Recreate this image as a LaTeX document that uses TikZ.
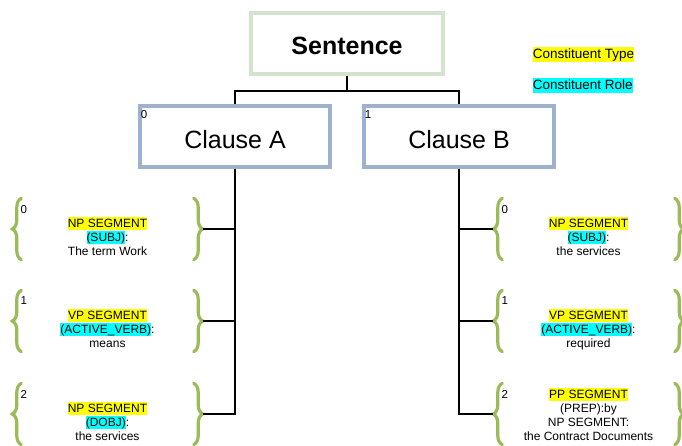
\documentclass[tikz,border=0pt]{standalone}
\usepackage{fontspec}
\setmainfont{Liberation Sans}
\usetikzlibrary{decorations.pathreplacing}

\definecolor{sentborder}{HTML}{D4E2D0}
\definecolor{clauseborder}{HTML}{9EB1CD}
\definecolor{bracegreen}{HTML}{9BBB59}
\definecolor{typeyellow}{HTML}{FFFF00}
\definecolor{rolecyan}{HTML}{00FFFF}

\setlength{\fboxsep}{0pt}
\newcommand{\typehl}[1]{\colorbox{typeyellow}{\rule[-.22em]{0pt}{1.1em}#1}}
\newcommand{\rolehl}[1]{\colorbox{rolecyan}{\rule[-.22em]{0pt}{1.1em}#1}}

\tikzset{
  sentbox/.style={draw=sentborder, line width=4pt, minimum width=192pt, minimum height=61pt,
    font=\fontsize{25}{30}\selectfont\bfseries, text height=21pt, text depth=0pt},
  clausebox/.style={draw=clauseborder, line width=4pt, minimum width=190pt, minimum height=61pt,
    font=\fontsize{25}{30}\selectfont, text height=24pt, text depth=0pt},
  idx/.style={font=\fontsize{11.5}{13}\selectfont, inner sep=0pt, anchor=north west},
  seg/.style={minimum width=172pt, minimum height=61pt, inner sep=0pt},
  segtext/.style={font=\fontsize{12}{14}\selectfont, align=center, inner sep=0pt, anchor=south,
    execute at end node=\strut},
  segbrace/.style={decorate, decoration={brace, amplitude=9pt}, draw=bracegreen,
    line width=3.2pt, line cap=round},
  conn/.style={line width=1.8pt},
  legend/.style={font=\fontsize{13.5}{16}\selectfont, inner sep=0pt, anchor=west}
}

\begin{document}
\begin{tikzpicture}[x=1pt,y=-1pt]
  \useasboundingbox (0,0) rectangle (682,445);

  \node[sentbox] (sentence) at (347,43.5) {Sentence};
  \node[clausebox] (clauseA) at (235,136) {Clause A};
  \node[clausebox] (clauseB) at (459,136) {Clause B};
  \node[idx] (numA) at ([xshift=2.7pt,yshift=-7pt]clauseA.north west) {0};
  \node[idx] (numB) at ([xshift=2.7pt,yshift=-7pt]clauseB.north west) {1};

  \node[legend] (typekey) at (532.7,54.5) {\typehl{Constituent Type}};
  \node[legend] (rolekey) at (532.7,85.3) {\rolehl{Constituent Role}};

  \draw[conn] (sentence.south) -- ++(0,15.3) coordinate (fork) -| (clauseA.north);
  \draw[conn] (fork) -| (clauseB.north);

  \node[seg] (a0) at (107.5,229) {};
  \node[seg] (a1) at (107.5,321) {};
  \node[seg] (a2) at (107.5,414) {};
  \node[seg] (b0) at (588.5,229) {};
  \node[seg] (b1) at (588.5,321) {};
  \node[seg] (b2) at (588.5,414) {};

  \draw[segbrace] (a0.south west) -- (a0.north west);
  \draw[segbrace] (a0.north east) -- (a0.south east);
  \draw[segbrace] (a1.south west) -- (a1.north west);
  \draw[segbrace] (a1.north east) -- (a1.south east);
  \draw[segbrace] (a2.south west) -- (a2.north west);
  \draw[segbrace] (a2.north east) -- (a2.south east);
  \draw[segbrace] (b0.south west) -- (b0.north west);
  \draw[segbrace] (b0.north east) -- (b0.south east);
  \draw[segbrace] (b1.south west) -- (b1.north west);
  \draw[segbrace] (b1.north east) -- (b1.south east);
  \draw[segbrace] (b2.south west) -- (b2.north west);
  \draw[segbrace] (b2.north east) -- (b2.south east);

  \node[idx] (numa0) at ([xshift=-1pt,yshift=-6.5pt]a0.north west) {0};
  \node[idx] (numa1) at ([xshift=-1pt,yshift=-6.5pt]a1.north west) {1};
  \node[idx] (numa2) at ([xshift=-1pt,yshift=-6.5pt]a2.north west) {2};
  \node[idx] (numb0) at ([xshift=-1pt,yshift=-6.5pt]b0.north west) {0};
  \node[idx] (numb1) at ([xshift=-1pt,yshift=-6.5pt]b1.north west) {1};
  \node[idx] (numb2) at ([xshift=-1pt,yshift=-6.5pt]b2.north west) {2};

  \node[segtext] (texta0) at (a0.south) {\typehl{NP SEGMENT}\\ \rolehl{(SUBJ)}:\\ The term Work};
  \node[segtext] (texta1) at (a1.south) {\typehl{VP SEGMENT}\\ \rolehl{(ACTIVE\_VERB)}:\\ means};
  \node[segtext] (texta2) at (a2.south) {\typehl{NP SEGMENT}\\ \rolehl{(DOBJ)}:\\ the services};
  \node[segtext] (textb0) at (b0.south) {\typehl{NP SEGMENT}\\ \rolehl{(SUBJ)}:\\ the services};
  \node[segtext] (textb1) at (b1.south) {\typehl{VP SEGMENT}\\ \rolehl{(ACTIVE\_VERB)}:\\ required};
  \node[segtext] (textb2) at (b2.south) {\typehl{PP SEGMENT}\\ (PREP):by\\ NP SEGMENT:\\ the Contract Documents};

  \draw[conn] ([xshift=9pt]a0.east) -| (clauseA.south);
  \draw[conn] ([xshift=9pt]a1.east) -| (clauseA.south);
  \draw[conn] ([xshift=9pt]a2.east) -| (clauseA.south);
  \draw[conn] ([xshift=-9pt]b0.west) -| (clauseB.south);
  \draw[conn] ([xshift=-9pt]b1.west) -| (clauseB.south);
  \draw[conn] ([xshift=-9pt]b2.west) -| (clauseB.south);
\end{tikzpicture}
\end{document}
